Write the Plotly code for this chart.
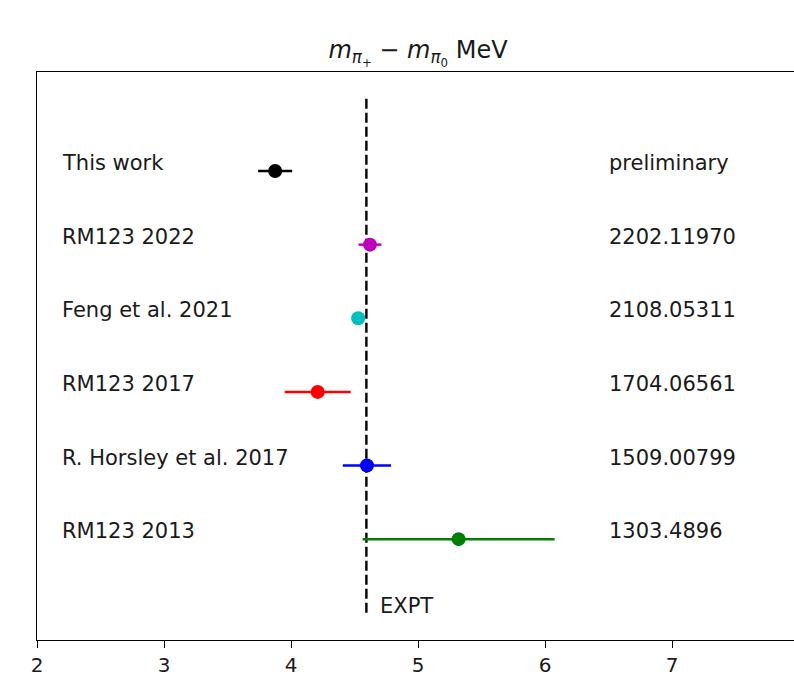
import plotly.graph_objects as go

labels = ["This work", "RM123 2022", "Feng et al. 2021", "RM123 2017",
          "R. Horsley et al. 2017", "RM123 2013"]
refs = ["preliminary", "2202.11970", "2108.05311", "1704.06561",
        "1509.00799", "1303.4896"]
values = [3.875, 4.622, 4.529, 4.21, 4.598, 5.32]
errors = [0.134, 0.09, 0.04, 0.26, 0.19, 0.756]
colors = ["#000000", "#bf00bf", "#00bfbf", "#ff0000", "#0000ff", "#008000"]
ypos = [6, 5, 4, 3, 2, 1]
expt_value = 4.5936
expt_span = [0, 7]
label_x = 2.2
ref_x = 6.5
expt_label_x = 4.7
xticks = [2, 3, 4, 5, 6, 7, 8]

FONT = "DejaVu Sans"
TXT = "#1a1a1a"
fig = go.Figure()

fig.add_trace(go.Scatter(
    x=[expt_value, expt_value], y=expt_span, mode="lines",
    line=dict(color="black", width=2.4, dash="10px,4px"),
    showlegend=False, hoverinfo="skip"))

for lab, v, e, c, y in zip(labels, values, errors, colors, ypos):
    fig.add_trace(go.Scatter(
        x=[v], y=[y], mode="markers",
        marker=dict(color=c, size=14),
        error_x=dict(type="data", array=[e], color=c, thickness=2.5, width=0),
        name=lab, showlegend=False))

annotations = []
for lab, ref, y in zip(labels, refs, ypos):
    annotations.append(dict(x=label_x, y=y, xref="x", yref="y", text=lab,
                            showarrow=False, xanchor="left", yanchor="middle",
                            xshift=-2, yshift=8, font=dict(family=FONT, size=21, color=TXT)))
    annotations.append(dict(x=ref_x, y=y, xref="x", yref="y", text=ref,
                            showarrow=False, xanchor="left", yanchor="middle",
                            xshift=-2, yshift=8, font=dict(family=FONT, size=21, color=TXT)))
annotations.append(dict(x=expt_label_x, y=expt_span[0], xref="x", yref="y", text="EXPT",
                        showarrow=False, xanchor="left", yanchor="middle",
                        xshift=-2, yshift=7, font=dict(family=FONT, size=21, color=TXT)))

fig.update_layout(
    width=794, height=686,
    margin=dict(l=37, r=0, t=72, b=46),
    paper_bgcolor="white", plot_bgcolor="white",
    font=dict(family=FONT, size=21, color=TXT),
    title=dict(text="<i>m</i><sub><i>π</i><sub>+</sub></sub> − <i>m</i><sub><i>π</i><sub>0</sub></sub> MeV",
               x=(418 / 794), xanchor="center", y=1 - 50 / 686, yanchor="middle",
               font=dict(family=FONT, size=24, color=TXT)),
    annotations=annotations,
    xaxis=dict(range=[2, 2 + 757 / 127], tickvals=xticks, showgrid=False, zeroline=False,
               showline=True, mirror=True, linecolor="black", linewidth=1.3,
               ticks="outside", ticklen=7, tickwidth=1.3, tickcolor="black",
               tickfont=dict(family=FONT, size=20, color=TXT)),
    yaxis=dict(range=[-0.37, 7.345], showgrid=False, zeroline=False, showticklabels=False,
               showline=True, linecolor="black", linewidth=1.3, ticks=""),
)

fig.write_html("out.html")
